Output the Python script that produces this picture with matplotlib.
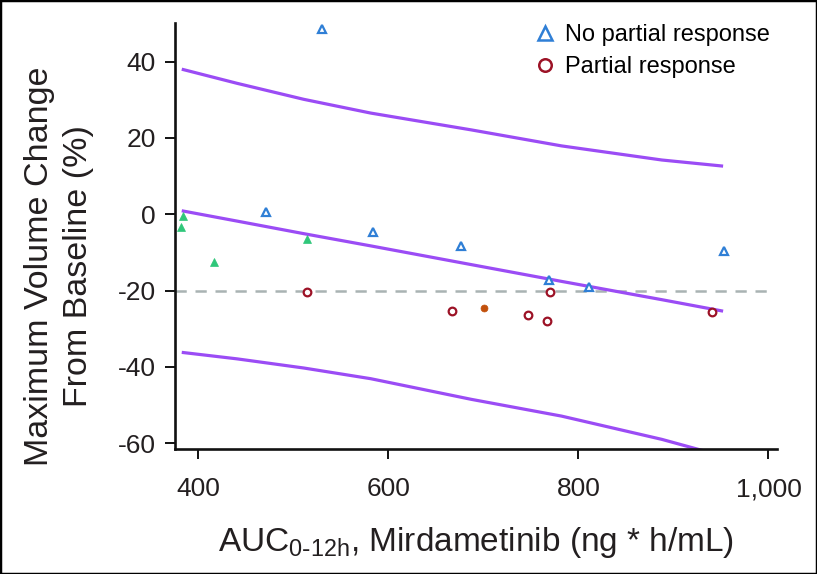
import matplotlib
matplotlib.use("Agg")
import matplotlib.pyplot as plt
from matplotlib.lines import Line2D
from matplotlib.patches import Rectangle

plt.rcParams['font.family'] = ['Liberation Sans', 'DejaVu Sans']
plt.rcParams['axes.unicode_minus'] = False

# ---- data ----
no_pr_x = [530, 471, 584, 677, 769, 811, 953]
no_pr_y = [48.5, 0.7, -4.7, -8.3, -17.2, -19.1, -9.6]

pr_x = [515, 667, 747, 767, 770, 941]
pr_y = [-20.3, -25.3, -26.3, -28.0, -20.3, -25.5]

green_x = [384.5, 381.7, 417, 515]
green_y = [-0.5, -3.4, -12.6, -6.6]

orange_x = [701]
orange_y = [-24.5]

curve_x = [382.8, 440.9, 511.2, 581.6, 687.2, 782.3, 887.9, 952.3]
upper_y = [38.0, 34.3, 30.1, 26.5, 22.1, 17.9, 14.2, 12.6]
fit_y = [0.9, -1.8, -5.1, -8.3, -13.2, -17.6, -22.4, -25.4]
lower_y = [-36.2, -37.9, -40.3, -43.1, -48.5, -52.9, -59.0, -63.4]

threshold = -20
x_ticks = [400, 600, 800, 1000]
x_tick_labels = ['400', '600', '800', '1,000']
y_ticks = [40, 20, 0, -20, -40, -60]

# ---- figure ----
W, H = 817, 574
fig = plt.figure(figsize=(W / 100, H / 100), dpi=100)
ax = fig.add_axes([175 / W, 1 - 449.3 / H, (777 - 175) / W, (449.3 - 23) / H])

purple = '#9b4cf5'
lw_curve = 2.3
for ys in (upper_y, fit_y, lower_y):
    ax.plot(curve_x, ys, color=purple, lw=lw_curve, solid_capstyle='butt',
            solid_joinstyle='round', zorder=2)

ax.axhline(threshold, xmin=0, xmax=0.99, color='#a9b3b3', lw=1.8,
           dashes=(4.5, 3.5), zorder=1)

blue = '#2f7fd6'
red = '#9c1226'
ax.plot(no_pr_x, no_pr_y, ls='none', marker='^', ms=6.2, mfc='white',
        mec=blue, mew=1.6, zorder=3)
ax.plot(pr_x, pr_y, ls='none', marker='o', ms=5.5, mfc='white',
        mec=red, mew=1.6, zorder=3)
ax.plot(green_x, green_y, ls='none', marker='^', ms=5.2, mfc='#2fc77a',
        mec='#2fc77a', mew=0.5, zorder=3)
ax.plot(orange_x, orange_y, ls='none', marker='o', ms=5.0, mfc='#c2500c',
        mec='#c2500c', mew=0.5, zorder=3)

ax.set_xlim(375.7, 1009)
ax.set_ylim(-61.6, 50.1)
ax.set_xticks(x_ticks)
ax.set_xticklabels(x_tick_labels)
ax.set_yticks(y_ticks)

for s in ['top', 'right']:
    ax.spines[s].set_visible(False)
for s in ['left', 'bottom']:
    ax.spines[s].set_linewidth(1.9)
    ax.spines[s].set_color('#111111')
ax.tick_params(axis='both', direction='out', length=7, width=1.4,
               labelsize=19, color='#111111', labelcolor='#231f20')
ax.tick_params(axis='x', pad=13)
ax.tick_params(axis='y', pad=7)

ax.set_xlabel(r'AUC$_{\mathregular{0\text{-}12h}}$, Mirdametinib (ng * h/mL)', fontsize=24,
              color='#231f20', labelpad=17)
fig.text(59 / W, 1 - 266 / H, 'Maximum Volume Change\nFrom Baseline (%)',
         rotation=90, ha='center', va='center', fontsize=24.5,
         color='#231f20', linespacing=1.35, multialignment='center')

handles = [
    Line2D([], [], ls='none', marker='^', ms=10, mfc='white', mec=blue, mew=1.8),
    Line2D([], [], ls='none', marker='o', ms=9, mfc='white', mec=red, mew=1.8),
]
ax.legend(handles, ['No partial response', 'Partial response'],
          loc='upper right', bbox_to_anchor=(1.012, 1.03), frameon=False,
          fontsize=17, handletextpad=0.25, labelspacing=0.4,
          handlelength=1.2, borderaxespad=0.2)

fig.add_artist(Rectangle((0, 0), 1, 1, transform=fig.transFigure,
                         fill=False, edgecolor='black', lw=2.5))

fig.savefig('out.png', dpi=100, facecolor='white')
